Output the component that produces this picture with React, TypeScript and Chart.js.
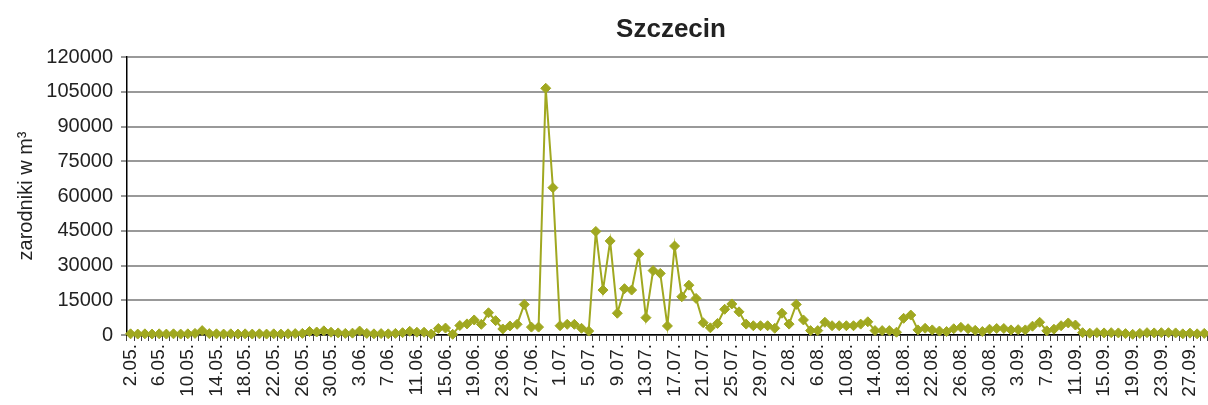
import React, { useEffect, useRef } from "react";
import { Chart, registerables } from "chart.js";

Chart.register(...registerables);

const TITLE = "Szczecin";
const Y_TITLE = "zarodniki w m³";

const MAY = ["2.05.", "3.05.", "4.05.", "5.05.", "6.05.", "7.05.", "8.05.", "9.05.", "10.05.", "11.05.", "12.05.", "13.05.", "14.05.", "15.05.", "16.05.", "17.05.", "18.05.", "19.05.", "20.05.", "21.05.", "22.05.", "23.05.", "24.05.", "25.05.", "26.05.", "27.05.", "28.05.", "29.05.", "30.05.", "31.05."];
const JUNE = ["1.06.", "2.06.", "3.06.", "4.06.", "5.06.", "6.06.", "7.06.", "8.06.", "9.06.", "10.06.", "11.06.", "12.06.", "13.06.", "14.06.", "15.06.", "16.06.", "17.06.", "18.06.", "19.06.", "20.06.", "21.06.", "22.06.", "23.06.", "24.06.", "25.06.", "26.06.", "27.06.", "28.06.", "29.06.", "30.06."];
const JULY = ["1.07.", "2.07.", "3.07.", "4.07.", "5.07.", "6.07.", "7.07.", "8.07.", "9.07.", "10.07.", "11.07.", "12.07.", "13.07.", "14.07.", "15.07.", "16.07.", "17.07.", "18.07.", "19.07.", "20.07.", "21.07.", "22.07.", "23.07.", "24.07.", "25.07.", "26.07.", "27.07.", "28.07.", "29.07.", "30.07.", "31.07."];
const AUGUST = ["1.08.", "2.08.", "3.08.", "4.08.", "5.08.", "6.08.", "7.08.", "8.08.", "9.08.", "10.08.", "11.08.", "12.08.", "13.08.", "14.08.", "15.08.", "16.08.", "17.08.", "18.08.", "19.08.", "20.08.", "21.08.", "22.08.", "23.08.", "24.08.", "25.08.", "26.08.", "27.08.", "28.08.", "29.08.", "30.08.", "31.08."];
const SEPTEMBER = ["1.09.", "2.09.", "3.09.", "4.09.", "5.09.", "6.09.", "7.09.", "8.09.", "9.09.", "10.09.", "11.09.", "12.09.", "13.09.", "14.09.", "15.09.", "16.09.", "17.09.", "18.09.", "19.09.", "20.09.", "21.09.", "22.09.", "23.09.", "24.09.", "25.09.", "26.09.", "27.09.", "28.09.", "29.09.", "30.09."];

const CATEGORIES = [...MAY, ...JUNE, ...JULY, ...AUGUST, ...SEPTEMBER];

const VALUES_MAY = [500, 400, 500, 400, 500, 400, 500, 400, 500, 700, 1900, 600, 500, 400, 500, 400, 500, 400, 500, 400, 500, 400, 500, 600, 700, 1500, 1300, 1800, 1200, 900];
const VALUES_JUNE = [700, 800, 1700, 700, 500, 600, 500, 700, 1000, 1600, 1200, 1200, 400, 2800, 3000, 300, 4100, 4800, 6500, 4600, 9600, 6200, 2600, 3900, 4600, 13200, 3400, 3400, 106500, 63600];
const VALUES_JULY = [4000, 4600, 4600, 2900, 1700, 44700, 19400, 40600, 9400, 20000, 19400, 35000, 7500, 27800, 26600, 3900, 38400, 16500, 21500, 15800, 5300, 3100, 5000, 11100, 13400, 10000, 4700, 4000, 4000, 4000, 2900];
const VALUES_AUGUST = [9400, 4700, 13200, 6500, 1900, 1900, 5500, 4000, 4000, 4000, 4000, 4700, 5700, 1900, 1900, 1900, 1200, 7200, 8600, 2200, 2900, 2200, 1700, 1500, 2700, 3300, 2700, 2000, 1500, 2500, 2800];
const VALUES_SEPTEMBER = [2800, 2200, 2300, 2200, 3800, 5500, 1800, 2500, 4000, 5200, 4300, 1000, 800, 1000, 900, 1000, 900, 600, 300, 700, 1000, 900, 1000, 1000, 900, 500, 800, 500, 700, 600];

const VALUES = [...VALUES_MAY, ...VALUES_JUNE, ...VALUES_JULY, ...VALUES_AUGUST, ...VALUES_SEPTEMBER];

const Y_MIN = 0;
const Y_MAX = 120000;
const Y_STEP = 15000;
const LABEL_EVERY = 4;

const FONT = '"Liberation Sans", Arial, sans-serif';
const LINE_COLOR = "#A0A820";

const titlePlugin = {
  id: "plotTitle",
  afterDraw(chart: any) {
    const { ctx, chartArea } = chart;
    ctx.save();
    ctx.font = `bold 26px ${FONT}`;
    ctx.fillStyle = "#222";
    ctx.textAlign = "center";
    ctx.textBaseline = "alphabetic";
    ctx.fillText(TITLE, (chartArea.left + chartArea.right) / 2, 37);
    ctx.restore();
  },
};

export default function App() {
  const ref = useRef<HTMLCanvasElement | null>(null);

  useEffect(() => {
    if (!ref.current) return;
    const chart = new Chart(ref.current, {
      type: "line",
      data: {
        labels: CATEGORIES,
        datasets: [
          {
            data: VALUES,
            borderColor: LINE_COLOR,
            backgroundColor: LINE_COLOR,
            borderWidth: 2,
            pointStyle: "rectRot",
            pointRadius: 5,
            pointBorderWidth: 1,
            pointBorderColor: LINE_COLOR,
            pointBackgroundColor: LINE_COLOR,
            tension: 0,
            clip: false as any,
          },
        ],
      },
      options: {
        responsive: false,
        animation: false,
        layout: { padding: { top: 57, right: 1, bottom: 0, left: 0 } },
        plugins: {
          legend: { display: false },
          title: { display: false },
          tooltip: { enabled: false },
        },
        scales: {
          x: {
            type: "category",
            offset: true,
            afterFit: (scale: any) => {
              scale.height = 70;
              scale.paddingLeft = 0;
              scale.paddingRight = 0;
            },
            grid: {
              display: true,
              drawOnChartArea: false,
              drawTicks: true,
              tickLength: 6,
              tickColor: "#444",
              offset: true,
            },
            border: { display: true, color: "#000", width: 1.5 },
            ticks: {
              autoSkip: false,
              minRotation: 90,
              maxRotation: 90,
              padding: 3,
              color: "#222",
              font: { family: FONT, size: 19 },
              callback: (_v: any, i: number) => (i % LABEL_EVERY === 0 ? CATEGORIES[i] : ""),
            },
          },
          y: {
            min: Y_MIN,
            max: Y_MAX,
            afterFit: (scale: any) => {
              scale.width = 127;
              scale.paddingTop = 0;
              scale.paddingBottom = 0;
            },
            grid: {
              color: "#999",
              lineWidth: 2,
              tickColor: "#333",
              tickWidth: 1,
              tickLength: 6,
            },
            border: { display: true, color: "#000", width: 1.5 },
            ticks: {
              stepSize: Y_STEP,
              padding: 8,
              color: "#222",
              font: { family: FONT, size: 20 },
              callback: (v: any) => String(v),
            },
            title: {
              display: true,
              text: Y_TITLE,
              color: "#222",
              font: { family: FONT, size: 20 },
              padding: { top: 14, bottom: 0 },
            },
          },
        },
      },
      plugins: [titlePlugin],
    });
    return () => chart.destroy();
  }, []);

  return (
    <div style={{ position: "fixed", left: 0, top: 0, width: 1221, height: 405, background: "#fff" }}>
      <canvas ref={ref} width={1221} height={405} style={{ width: 1221, height: 405, display: "block" }} />
    </div>
  );
}
